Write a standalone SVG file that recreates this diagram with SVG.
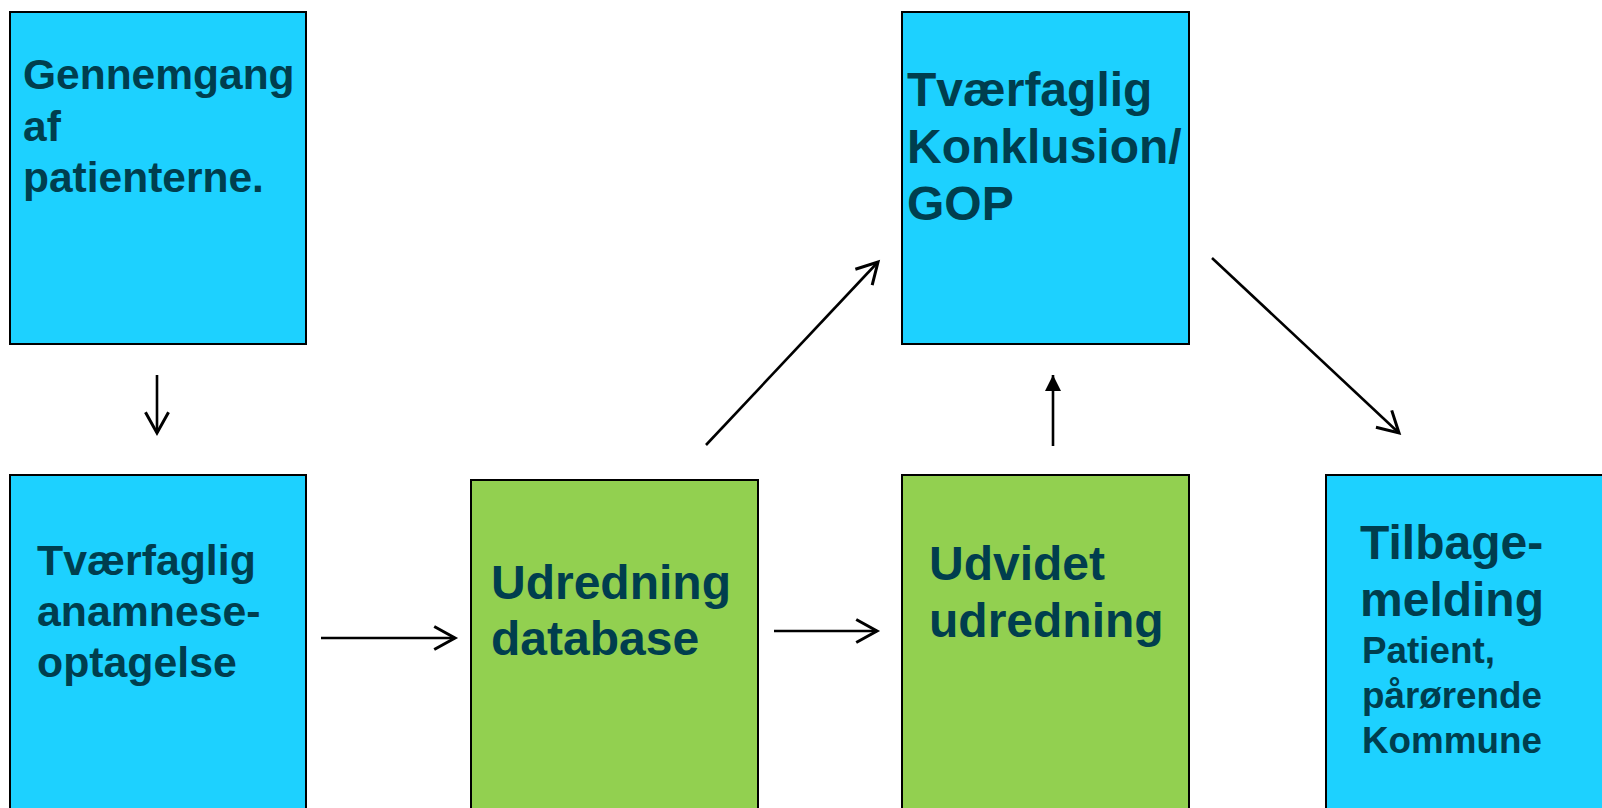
<svg xmlns="http://www.w3.org/2000/svg" width="1602" height="808" viewBox="0 0 1602 808">
<defs>
<style>
.blue{fill:#1DD1FF;stroke:#000;stroke-width:2}
.green{fill:#92D050;stroke:#000;stroke-width:2}
.t{font-family:"Liberation Sans",Arial,sans-serif;font-weight:bold;fill:#003E4E}
.c{stroke:#000;stroke-width:2.6;fill:none}
</style>
<marker id="open" markerUnits="userSpaceOnUse" markerWidth="30" markerHeight="30" viewBox="-22 -13 26 26" refX="0" refY="0" orient="auto">
<path d="M-18,-10 L0,0 L-18,10" fill="none" stroke="#000" stroke-width="2.6" stroke-linejoin="miter"/>
</marker>
<marker id="solid" markerUnits="userSpaceOnUse" markerWidth="20" markerHeight="20" viewBox="-17 -10 19 20" refX="0" refY="0" orient="auto">
<path d="M-16,-8 L0,0 L-16,8 Z" fill="#000"/>
</marker>
</defs>
<rect width="1602" height="808" fill="#fff"/>
<g id="n1">
<rect class="blue" x="10" y="12" width="296" height="332"/>
<text class="t" font-size="42.5"><tspan x="23" y="89">Gennemgang</tspan><tspan x="23" y="140.5">af</tspan><tspan x="23" y="192">patienterne.</tspan></text>
</g>
<g id="n2">
<rect class="blue" x="902" y="12" width="287" height="332"/>
<text class="t" font-size="48"><tspan x="907" y="106">Tværfaglig</tspan><tspan x="907" y="163">Konklusion/</tspan><tspan x="907" y="220">GOP</tspan></text>
</g>
<g id="n3">
<rect class="blue" x="10" y="475" width="296" height="345"/>
<text class="t" font-size="42.8"><tspan x="37" y="575">Tværfaglig</tspan><tspan x="37" y="626">anamnese-</tspan><tspan x="37" y="677">optagelse</tspan></text>
</g>
<g id="n4">
<rect class="green" x="471" y="480" width="287" height="340"/>
<text class="t" font-size="48"><tspan x="491" y="599">Udredning</tspan><tspan x="491" y="655">database</tspan></text>
</g>
<g id="n5">
<rect class="green" x="902" y="475" width="287" height="345"/>
<text class="t" font-size="48"><tspan x="929" y="580">Udvidet</tspan><tspan x="929" y="637">udredning</tspan></text>
</g>
<g id="n6">
<rect class="blue" x="1326" y="475" width="290" height="345"/>
<text class="t"><tspan x="1360" y="559" font-size="48">Tilbage-</tspan><tspan x="1360" y="616" font-size="48">melding</tspan><tspan x="1362" y="663" font-size="36.8">Patient,</tspan><tspan x="1362" y="708" font-size="36.8">pårørende</tspan><tspan x="1362" y="753" font-size="36.8">Kommune</tspan></text>
</g>
<g id="connectors">
<line class="c" x1="157" y1="375" x2="157" y2="433" marker-end="url(#open)"/>
<line class="c" x1="321" y1="638" x2="455" y2="638" marker-end="url(#open)"/>
<line class="c" x1="774" y1="631" x2="877" y2="631" marker-end="url(#open)"/>
<line class="c" x1="706" y1="445" x2="878" y2="262" marker-end="url(#open)"/>
<line class="c" x1="1053" y1="446" x2="1053" y2="375" marker-end="url(#solid)"/>
<line class="c" x1="1212" y1="258" x2="1399" y2="433" marker-end="url(#open)"/>
</g>
</svg>
